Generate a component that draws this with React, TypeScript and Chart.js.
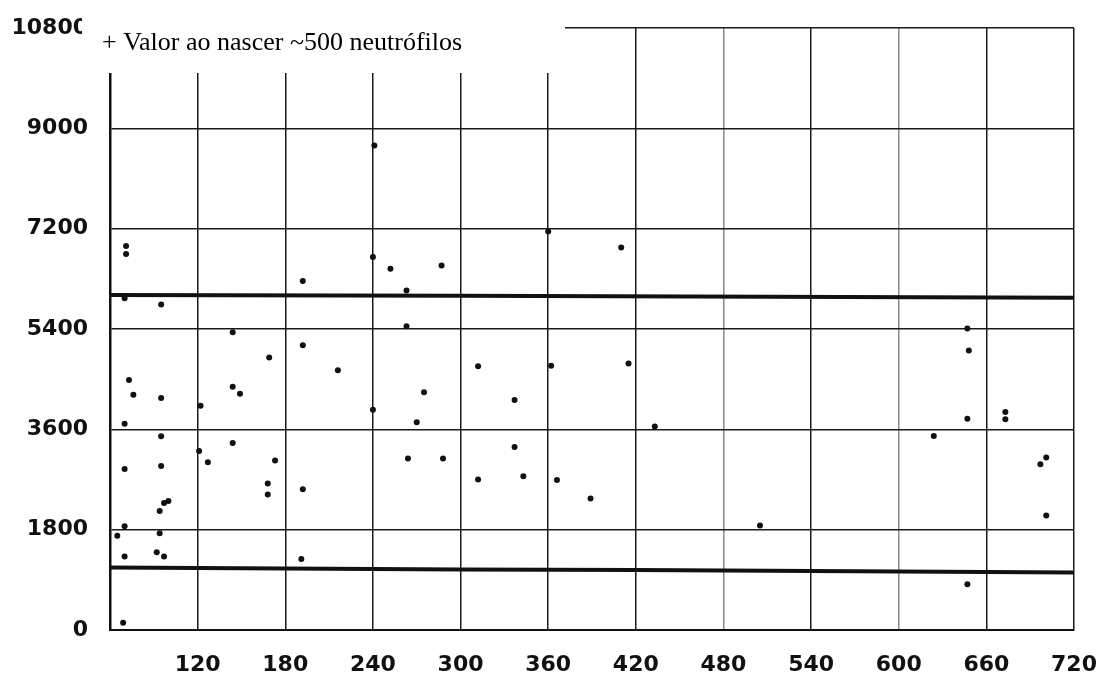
import React, { useEffect, useRef } from 'react';
import { Chart, registerables } from 'chart.js';

Chart.register(...registerables);

// Axes
const xMin = 60;
const xMax = 720;
const xStep = 60;
const yMin = 0;
const yMax = 10800;
const yStep = 1800;
const hiddenXTick = 60;

// Observed values (day, neutrophil count)
const pointDays = [
  71, 71, 70, 95, 192, 144, 192, 169, 216, 73, 76, 95, 144, 149, 122, 70, 95, 144, 121, 127,
  173, 70, 95, 168, 168, 192, 100, 97, 94, 70, 65, 94, 70, 92, 97, 191, 69,
  241, 240, 252, 287, 263, 263, 360, 312, 362, 275, 337, 240, 270, 337, 264, 288, 312, 343,
  366, 389,
  410, 415, 433, 505,
  647, 648, 647, 673, 673, 624, 701, 697, 701, 647,
];
const pointCounts = [
  6890, 6745, 5950, 5840, 6260, 5340, 5110, 4890, 4660, 4485, 4220, 4160, 4365, 4240, 4025, 3700, 3475, 3355, 3210, 3010,
  3040, 2890, 2940, 2630, 2430, 2525, 2315, 2280, 2135, 1860, 1690, 1735, 1320, 1395, 1320, 1275, 130,
  8690, 6690, 6480, 6540, 6090, 5450, 7150, 4730, 4740, 4265, 4125, 3950, 3725, 3285, 3075, 3075, 2700, 2760,
  2690, 2360,
  6860, 4780, 3650, 1875,
  5410, 5015, 3790, 3910, 3780, 3480, 3095, 2975, 2055, 820,
];

// Reference limit lines
const upperLimitDays = [60, 300, 720];
const upperLimitValues = [6010, 5995, 5960];
const lowerLimitDays = [60, 300, 420, 720];
const lowerLimitValues = [1120, 1085, 1075, 1030];

const annotationText = '+ Valor ao nascer ~500 neutrófilos';

const toPoints = (xs: number[], ys: number[]) => xs.map((x, i) => ({ x, y: ys[i] }));

const overlayPlugin = {
  id: 'scanOverlay',
  afterDraw(chart: any) {
    const ctx = chart.ctx as CanvasRenderingContext2D;
    ctx.save();
    ctx.fillStyle = '#ffffff';
    ctx.fillRect(82, 0, 483, 73);
    ctx.fillStyle = '#000000';
    ctx.font = '26px "Liberation Serif", "Times New Roman", serif';
    ctx.textBaseline = 'alphabetic';
    ctx.textAlign = 'left';
    ctx.fillText(annotationText, 102, 50);
    ctx.restore();
  },
};

export default function App() {
  const canvasRef = useRef<HTMLCanvasElement | null>(null);

  useEffect(() => {
    if (!canvasRef.current) return;
    const tickFont = { family: '"DejaVu Sans", sans-serif', size: 22, weight: 'bold' as const };
    const chart = new Chart(canvasRef.current, {
      type: 'scatter',
      data: {
        datasets: [
          {
            label: 'upper',
            type: 'line',
            data: toPoints(upperLimitDays, upperLimitValues),
            borderColor: '#111',
            borderWidth: 4,
            pointRadius: 0,
            fill: false,
            tension: 0,
          } as any,
          {
            label: 'lower',
            type: 'line',
            data: toPoints(lowerLimitDays, lowerLimitValues),
            borderColor: '#111',
            borderWidth: 4,
            pointRadius: 0,
            fill: false,
            tension: 0,
          } as any,
          {
            label: 'neutrófilos',
            data: toPoints(pointDays, pointCounts),
            backgroundColor: '#111',
            borderColor: '#111',
            borderWidth: 0,
            pointRadius: 3,
            pointHoverRadius: 3,
          },
        ],
      },
      options: {
        animation: false,
        responsive: true,
        maintainAspectRatio: false,
        layout: { autoPadding: false, padding: { left: 0, top: 28, right: 28, bottom: 0 } },
        plugins: {
          legend: { display: false },
          tooltip: { enabled: false },
        },
        scales: {
          x: {
            type: 'linear',
            min: xMin,
            max: xMax,
            afterFit: (s: any) => {
              s.height = 56;
              s.paddingLeft = 0;
              s.paddingRight = 0;
              s.paddingTop = 0;
              s.paddingBottom = 0;
            },
            ticks: {
              stepSize: xStep,
              padding: 22,
              color: '#111',
              font: tickFont,
              maxRotation: 0,
              callback: (v: any) => (Number(v) === hiddenXTick ? '' : String(v)),
            },
            grid: {
              drawTicks: false,
              color: (c: any) =>
                c.tick && (c.tick.value === 480 || c.tick.value === 600) ? '#8a8a8a' : '#1a1a1a',
              lineWidth: 1.5,
            },
            border: { display: true, color: '#111', width: 2 },
          },
          y: {
            type: 'linear',
            min: yMin,
            max: yMax,
            afterFit: (s: any) => {
              s.width = 110;
              s.paddingLeft = 0;
              s.paddingRight = 0;
              s.paddingTop = 0;
              s.paddingBottom = 0;
            },
            ticks: {
              stepSize: yStep,
              padding: 22,
              color: '#111',
              font: tickFont,
              callback: (v: any) => String(v),
            },
            grid: {
              drawTicks: false,
              color: '#1a1a1a',
              lineWidth: 1.5,
            },
            border: { display: true, color: '#111', width: 2.5 },
          },
        },
      },
      plugins: [overlayPlugin],
    });
    return () => chart.destroy();
  }, []);

  return (
    <div style={{ position: 'absolute', left: 0, top: 0, width: 1102, height: 686, background: '#fff' }}>
      <canvas ref={canvasRef} />
    </div>
  );
}
